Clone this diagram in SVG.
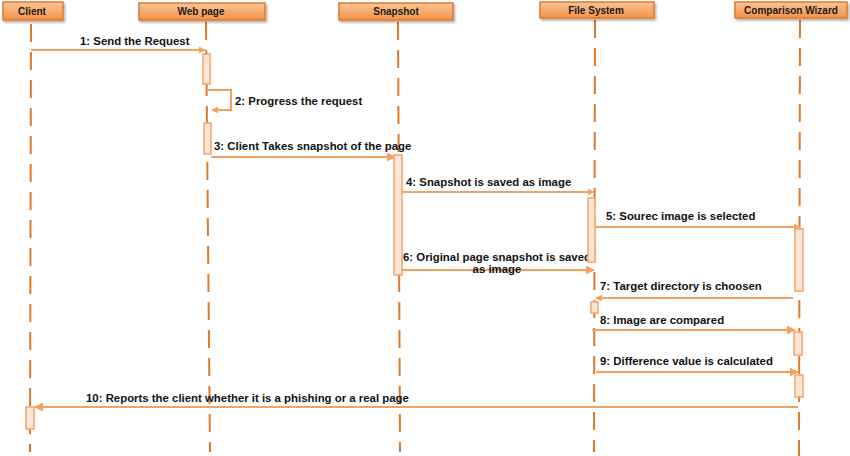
<svg xmlns="http://www.w3.org/2000/svg" width="850" height="456" viewBox="0 0 850 456">
<style>
.hdr{fill:url(#g);stroke:#E0792B;stroke-width:1.5}
.ht{font-family:"Liberation Sans",Arial,sans-serif;font-weight:bold;font-size:10px;fill:#1a1a1a;text-anchor:middle}
.life{stroke:#DE7A27;stroke-width:2;stroke-dasharray:18,10;fill:none}
.msg{stroke:#F5A160;stroke-width:2;fill:none}
.act{fill:#FDE6D6;stroke:#F4A46A;stroke-width:1.5}
.lbl{font-family:"Liberation Sans",Arial,sans-serif;font-weight:bold;font-size:11.4px;fill:#111}
</style>
<defs>
<linearGradient id="g" x1="0" y1="0" x2="0" y2="1">
<stop offset="0" stop-color="#FBC498"/>
<stop offset="1" stop-color="#F39245"/>
</linearGradient>
<filter id="sh" x="-10%" y="-30%" width="130%" height="190%">
<feDropShadow dx="1.5" dy="2" stdDeviation="1.2" flood-color="#000" flood-opacity="0.3"/>
</filter>
<marker id="ar" viewBox="0 0 10 10" refX="9" refY="5" markerWidth="7" markerHeight="7" markerUnits="userSpaceOnUse" orient="auto">
<path d="M0,0 L10,5 L0,10 z" fill="#F5A160"/>
</marker>
<marker id="arL" viewBox="0 0 10 10" refX="9" refY="5" markerWidth="12" markerHeight="9" markerUnits="userSpaceOnUse" orient="auto">
<path d="M0,0 L10,5 L0,10 z" fill="#F5A160"/>
</marker>
</defs>
<rect width="850" height="456" fill="#fff"/>
<g id="lifelines">
<line class="life" x1="31" y1="24" x2="30" y2="452"/>
<line class="life" x1="206" y1="22" x2="210" y2="452"/>
<line class="life" x1="398" y1="22" x2="400" y2="452"/>
<line class="life" x1="595" y1="20" x2="594" y2="452"/>
<line class="life" x1="800" y1="20" x2="799" y2="456"/>
</g>
<g id="client"><rect class="hdr" filter="url(#sh)" x="3" y="2" width="60" height="18"/><text class="ht" x="32" y="15">Client</text></g>
<g id="webpage"><rect class="hdr" filter="url(#sh)" x="139" y="3" width="126" height="17"/><text class="ht" x="201" y="15">Web page</text></g>
<g id="snapshot"><rect class="hdr" filter="url(#sh)" x="339" y="3" width="114" height="17"/><text class="ht" x="396" y="15">Snapshot</text></g>
<g id="filesystem"><rect class="hdr" filter="url(#sh)" x="540" y="2" width="114" height="16"/><text class="ht" x="596" y="14">File System</text></g>
<g id="wizard"><rect class="hdr" filter="url(#sh)" x="735" y="2" width="112" height="16"/><text class="ht" x="791" y="14">Comparison Wizard</text></g>
<g id="connectors">
<line class="msg" x1="31" y1="50" x2="205" y2="50" marker-end="url(#ar)"/>
<polyline class="msg" points="208,90 231,90 231,110 212,110" marker-end="url(#ar)"/>
<line class="msg" x1="211" y1="157" x2="395" y2="157" marker-end="url(#arL)"/>
<line class="msg" x1="402" y1="192" x2="594" y2="192" marker-end="url(#ar)"/>
<line class="msg" x1="596" y1="227" x2="800" y2="227" marker-end="url(#ar)"/>
<line class="msg" x1="402" y1="270" x2="594" y2="270" marker-end="url(#arL)"/>
<line class="msg" x1="793" y1="298" x2="596" y2="298" marker-end="url(#ar)"/>
<line class="msg" x1="592" y1="330" x2="795" y2="330" marker-end="url(#arL)"/>
<line class="msg" x1="596" y1="372" x2="798" y2="372" marker-end="url(#arL)"/>
<line class="msg" x1="798" y1="407" x2="35" y2="407" marker-end="url(#arL)"/>
</g>
<g id="labels">
<text class="lbl" x="80" y="45">1: Send the Request</text>
<text class="lbl" x="235" y="105">2: Progress the request</text>
<text class="lbl" x="214" y="150">3: Client Takes snapshot of the page</text>
<text class="lbl" x="406" y="186">4: Snapshot is saved as image</text>
<text class="lbl" x="606" y="220">5: Sourec image is selected</text>
<text class="lbl" x="403" y="261">6: Original page snapshot is saved</text>
<text class="lbl" x="497" y="273" text-anchor="middle">as image</text>
<text class="lbl" x="600" y="290">7: Target directory is choosen</text>
<text class="lbl" x="600" y="324">8: Image are compared</text>
<text class="lbl" x="600" y="365">9: Difference value is calculated</text>
<text class="lbl" x="86" y="402">10: Reports the client whether it is a phishing or a real page</text>
</g>
<g id="activations">
<rect class="act" x="203" y="54" width="7" height="30"/>
<rect class="act" x="204" y="123" width="7" height="31"/>
<rect class="act" x="394" y="155" width="8" height="120"/>
<rect class="act" x="588" y="198" width="7" height="64"/>
<rect class="act" x="795" y="229" width="8" height="62"/>
<rect class="act" x="591" y="302" width="7" height="11"/>
<rect class="act" x="794" y="332" width="8" height="23"/>
<rect class="act" x="795" y="375" width="8" height="22"/>
<rect class="act" x="26" y="407" width="8" height="22"/>
</g>
</svg>
